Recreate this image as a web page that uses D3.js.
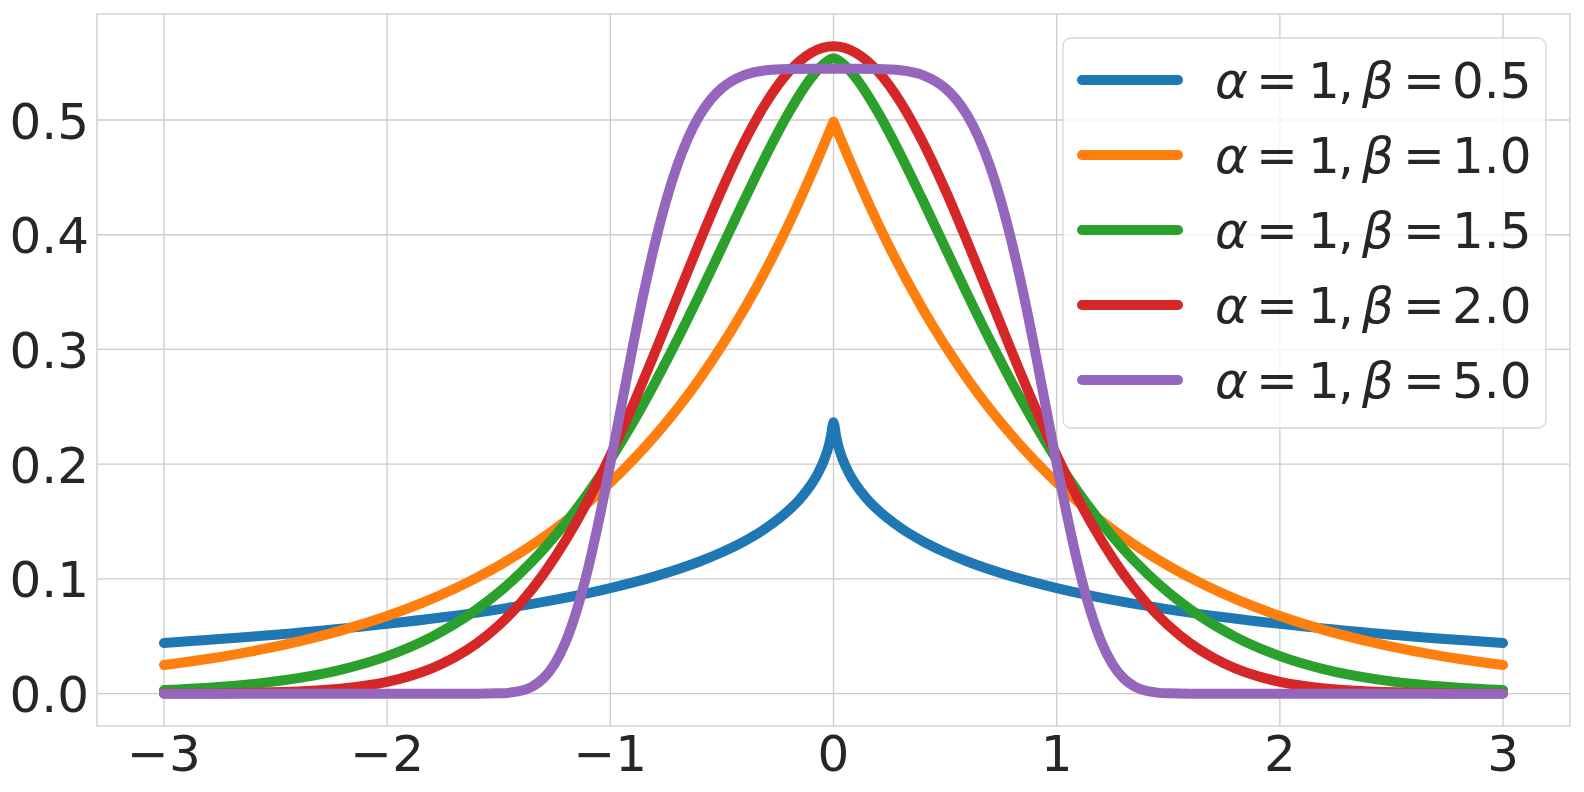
<!DOCTYPE html>
<html><head><meta charset="utf-8">
<script src="https://cdn.jsdelivr.net/npm/d3@7"></script>
<style>body{margin:0;background:#fff} text{font-family:"DejaVu Sans";fill:#262626}</style>
</head><body>
<svg id="c" width="1584" height="792"></svg>
<script>
const xTicks = [-3, -2, -1, 0, 1, 2, 3];
const yTicks = [0, 0.1, 0.2, 0.3, 0.4, 0.5];
const alphaVals = ["1", "1", "1", "1", "1"];
const betaVals = ["0.5", "1.0", "1.5", "2.0", "5.0"];
const colors = ["#1f77b4", "#ff7f0e", "#2ca02c", "#d62728", "#9467bd"];
const cusp = [true, true, false, false, false];

const xB05 = [-3,-2.5,-2,-1.75,-1.5,-1.25,-1,-0.8,-0.6,-0.5,-0.4,-0.3,-0.2,-0.15,-0.1,-0.07,-0.04,-0.02,-0.01,-0.005,0,0.005,0.01,0.02,0.04,0.07,0.1,0.15,0.2,0.3,0.4,0.5,0.6,0.8,1,1.25,1.5,1.75,2,2.5,3];
const yB05 = [0.0442,0.0514,0.0608,0.0666,0.0735,0.0817,0.0920,0.1022,0.1152,0.1233,0.1328,0.1446,0.1599,0.1697,0.1822,0.1919,0.2047,0.2170,0.2262,0.2329,0.2366,0.2329,0.2262,0.2170,0.2047,0.1919,0.1822,0.1697,0.1599,0.1446,0.1328,0.1233,0.1152,0.1022,0.0920,0.0817,0.0735,0.0666,0.0608,0.0514,0.0442];

const xB10 = [-3,-2.8,-2.6,-2.4,-2.2,-2,-1.8,-1.6,-1.4,-1.2,-1,-0.8,-0.6,-0.4,-0.2,-0.1,0,0.1,0.2,0.4,0.6,0.8,1,1.2,1.4,1.6,1.8,2,2.2,2.4,2.6,2.8,3];
const yB10 = [0.0249,0.0304,0.0371,0.0454,0.0554,0.0677,0.0826,0.1009,0.1233,0.1506,0.1839,0.2247,0.2744,0.3352,0.4094,0.4524,0.4985,0.4524,0.4094,0.3352,0.2744,0.2247,0.1839,0.1506,0.1233,0.1009,0.0826,0.0677,0.0554,0.0454,0.0371,0.0304,0.0249];

const xB15 = [-3,-2.8,-2.6,-2.4,-2.2,-2,-1.8,-1.6,-1.5,-1.4,-1.3,-1.2,-1.1,-1,-0.9,-0.8,-0.7,-0.6,-0.5,-0.4,-0.3,-0.2,-0.1,-0.05,0,0.05,0.1,0.2,0.3,0.4,0.5,0.6,0.7,0.8,0.9,1,1.1,1.2,1.3,1.4,1.5,1.6,1.8,2,2.2,2.4,2.6,2.8,3];
const yB15 = [0.0031,0.0051,0.0084,0.0135,0.0212,0.0327,0.0495,0.0732,0.0882,0.1057,0.1258,0.1488,0.1748,0.2038,0.2359,0.2709,0.3084,0.3480,0.3890,0.4301,0.4700,0.5065,0.5367,0.5477,0.5539,0.5477,0.5367,0.5065,0.4700,0.4301,0.3890,0.3480,0.3084,0.2709,0.2359,0.2038,0.1748,0.1488,0.1258,0.1057,0.0882,0.0732,0.0495,0.0327,0.0212,0.0135,0.0084,0.0051,0.0031];

const xB20 = [-3,-2.8,-2.6,-2.4,-2.2,-2,-1.9,-1.8,-1.7,-1.6,-1.5,-1.4,-1.3,-1.2,-1.1,-1,-0.9,-0.8,-0.7,-0.6,-0.5,-0.4,-0.3,-0.2,-0.1,0,0.1,0.2,0.3,0.4,0.5,0.6,0.7,0.8,0.9,1,1.1,1.2,1.3,1.4,1.5,1.6,1.7,1.8,1.9,2,2.2,2.4,2.6,2.8,3];
const yB20 = [0.0001,0.0002,0.0007,0.0018,0.0045,0.0103,0.0153,0.0221,0.0314,0.0436,0.0595,0.0795,0.1041,0.1337,0.1682,0.2076,0.2510,0.2975,0.3456,0.3936,0.4394,0.4808,0.5156,0.5421,0.5586,0.5642,0.5586,0.5421,0.5156,0.4808,0.4394,0.3936,0.3456,0.2975,0.2510,0.2076,0.1682,0.1337,0.1041,0.0795,0.0595,0.0436,0.0314,0.0221,0.0153,0.0103,0.0045,0.0018,0.0007,0.0002,0.0001];

const xB50 = [-3,-2,-1.7,-1.6,-1.5,-1.45,-1.4,-1.35,-1.3,-1.25,-1.2,-1.15,-1.1,-1.05,-1,-0.95,-0.9,-0.85,-0.8,-0.75,-0.7,-0.65,-0.6,-0.55,-0.5,-0.4,-0.3,-0.2,-0.1,0,0.1,0.2,0.3,0.4,0.5,0.55,0.6,0.65,0.7,0.75,0.8,0.85,0.9,0.95,1,1.05,1.1,1.15,1.2,1.25,1.3,1.35,1.4,1.45,1.5,1.6,1.7,2,3];
const yB50 = [0,0,0,0,0.0003,0.0009,0.0025,0.0062,0.0133,0.0258,0.0452,0.0729,0.1088,0.1520,0.2003,0.2512,0.3018,0.3495,0.3924,0.4296,0.4604,0.4850,0.5039,0.5179,0.5278,0.5391,0.5433,0.5444,0.5446,0.5446,0.5446,0.5444,0.5433,0.5391,0.5278,0.5179,0.5039,0.4850,0.4604,0.4296,0.3924,0.3495,0.3018,0.2512,0.2003,0.1520,0.1088,0.0729,0.0452,0.0258,0.0133,0.0062,0.0025,0.0009,0.0003,0,0,0,0];

const seriesX = [xB05, xB10, xB15, xB20, xB50];
const seriesY = [yB05, yB10, yB15, yB20, yB50];

const svg = d3.select("#c");
const L = 97, R = 1570, T = 14, B = 726;
const x = d3.scaleLinear().domain([-3.3, 3.3]).range([L, R]);
const y = d3.scaleLinear().domain([-0.0282, 0.5924]).range([B, T]);
const grid = "#cccccc";

// grid
svg.append("g").selectAll("line").data(xTicks).join("line")
  .attr("x1", d => x(d)).attr("x2", d => x(d)).attr("y1", T).attr("y2", B)
  .attr("stroke", grid).attr("stroke-width", 1.3);
svg.append("g").selectAll("line").data(yTicks).join("line")
  .attr("x1", L).attr("x2", R).attr("y1", d => y(d)).attr("y2", d => y(d))
  .attr("stroke", grid).attr("stroke-width", 1.3);
// spines
svg.append("rect").attr("x", L).attr("y", T).attr("width", R - L).attr("height", B - T)
  .attr("fill", "none").attr("stroke", grid).attr("stroke-width", 1.3);

// tick labels
svg.append("g").selectAll("text").data(yTicks).join("text")
  .attr("x", 89).attr("y", d => y(d) + 18.5).attr("text-anchor", "end")
  .attr("font-size", 50).text(d => d3.format(".1f")(d));
svg.append("g").selectAll("text").data(xTicks).join("text")
  .attr("x", d => x(d)).attr("y", 771).attr("text-anchor", "middle")
  .attr("font-size", 50).text(d => d < 0 ? "\u2212" + Math.abs(d) : String(d));

// curves
const line = d3.line().x(d => x(d[0])).y(d => y(d[1])).curve(d3.curveMonotoneX);
seriesX.forEach((xs, i) => {
  const pts = xs.map((v, j) => [v, seriesY[i][j]]);
  let dStr;
  if (cusp[i]) {
    const left = pts.filter(p => p[0] <= 0), right = pts.filter(p => p[0] >= 0);
    dStr = line(left) + line(right).replace(/^M/, "L");
  } else dStr = line(pts);
  svg.append("path").attr("d", dStr).attr("fill", "none")
    .attr("stroke", colors[i]).attr("stroke-width", 10)
    .attr("stroke-linecap", "round").attr("stroke-linejoin", "round");
});

// legend
const lg = svg.append("g");
lg.append("rect").attr("x", 1063).attr("y", 38).attr("width", 483).attr("height", 390)
  .attr("rx", 8).attr("fill", "#ffffff").attr("fill-opacity", 0.8)
  .attr("stroke", "#d6d6d6").attr("stroke-width", 1.3);
betaVals.forEach((b, i) => {
  const ly = 80 + i * 75;
  lg.append("line").attr("x1", 1082).attr("x2", 1178).attr("y1", ly).attr("y2", ly)
    .attr("stroke", colors[i]).attr("stroke-width", 10).attr("stroke-linecap", "round");
  const t = lg.append("text").attr("y", ly + 18).attr("font-size", 50);
  const x0 = 1215;
  const parts = [
    ["\u03b1", 0, true], ["=", 41, false], [alphaVals[i], 93, false], [",", 123, false],
    ["\u03b2", 147, true], ["=", 188, false], [b, 237, false]
  ];
  parts.forEach(p => {
    t.append("tspan").attr("x", x0 + p[1]).attr("font-style", p[2] ? "italic" : "normal").text(p[0]);
  });
});
</script>
</body></html>
